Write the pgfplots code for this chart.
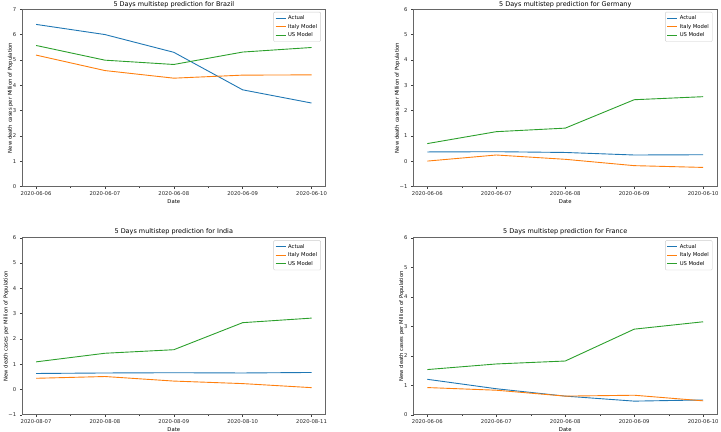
\documentclass[border=0pt]{standalone}
\usepackage{fontspec}
\setmainfont{DejaVu Sans}
\usepackage{pgfplots}
\pgfplotsset{compat=1.18}
\definecolor{tabblue}{HTML}{1F77B4}
\definecolor{taborange}{HTML}{FF7F0E}
\definecolor{tabgreen}{HTML}{2CA02C}
\pgfplotsset{
 covid/.style={
  scale only axis, width=303bp, height=177.5bp,
  xmin=-0.2, xmax=4.2, xtick={0,1,2,3,4}, minor xtick={0.5,1.5,2.5,3.5},
  tick align=outside, tick pos=left,
  major tick length=2.5bp, minor tick length=1.5bp,
  every tick/.style={black!75, line width=0.4pt},
  axis line style={black!60, line width=0.5pt},
  tick label style={font=\fontsize{5.3}{6}\selectfont, text=black!85},
  xticklabel style={yshift=1bp},
  label style={font=\fontsize{5.3}{6}\selectfont},
  xlabel style={yshift=3bp},
  ylabel style={yshift=-7bp},
  every axis title shift=0pt,
  title style={font=\fontsize{6.5}{7.5}\selectfont, anchor=base, yshift=2.2bp},
  xlabel={Date}, ylabel={New death cases per Million of Population},
  /pgf/number format/assume math mode=true,
  legend style={at={(0.985,0.985)}, anchor=north east, font=\fontsize{5.3}{6.3}\selectfont,
    draw=black!20, rounded corners=1pt, row sep=-1pt, inner sep=1.5pt},
  legend cell align=left,
  legend image code/.code={\draw[mark repeat=2,mark phase=2,##1] plot coordinates {(0bp,0bp) (5bp,0bp) (10bp,0bp)};},
  every axis plot/.append style={line width=0.9bp, no markers},
 },
 yfull/.style={ymin=-1, ymax=6, ytick={-1,0,1,2,3,4,5,6}, yticklabels={−1,0,1,2,3,4,5,6}},
}
\begin{document}
\begin{tikzpicture}
\useasboundingbox (0,0) rectangle (721bp,432bp);
% Brazil
\begin{axis}[covid, at={(22.3bp,245.3bp)}, anchor=south west,
  title={5 Days multistep prediction for Brazil},
  ymin=0, ymax=7, ytick={0,1,2,3,4,5,6,7},
  xticklabels={2020-06-06,2020-06-07,2020-06-08,2020-06-09,2020-06-10}]
\addplot[tabblue] coordinates {(0,6.40) (1,6.00) (2,5.30) (3,3.82) (4,3.30)};
\addplot[taborange] coordinates {(0,5.19) (1,4.58) (2,4.28) (3,4.40) (4,4.41)};
\addplot[tabgreen] coordinates {(0,5.57) (1,4.99) (2,4.82) (3,5.31) (4,5.49)};
\legend{Actual,Italy Model,US Model}
\end{axis}
% Germany
\begin{axis}[covid, yfull, at={(413.5bp,245.3bp)}, anchor=south west, width=303.5bp,
  title={5 Days multistep prediction for Germany},
  xticklabels={2020-06-06,2020-06-07,2020-06-08,2020-06-09,2020-06-10}]
\addplot[tabblue] coordinates {(0,0.37) (1,0.38) (2,0.35) (3,0.25) (4,0.26)};
\addplot[taborange] coordinates {(0,0.01) (1,0.25) (2,0.08) (3,-0.17) (4,-0.24)};
\addplot[tabgreen] coordinates {(0,0.70) (1,1.17) (2,1.31) (3,2.43) (4,2.55)};
\legend{Actual,Italy Model,US Model}
\end{axis}
% India
\begin{axis}[covid, yfull, at={(22.3bp,17.3bp)}, anchor=south west, height=177bp,
  title={5 Days multistep prediction for India}, title style={yshift=1.7bp},
  xticklabels={2020-08-07,2020-08-08,2020-08-09,2020-08-10,2020-08-11}]
\addplot[tabblue] coordinates {(0,0.63) (1,0.65) (2,0.66) (3,0.65) (4,0.67)};
\addplot[taborange] coordinates {(0,0.44) (1,0.51) (2,0.33) (3,0.23) (4,0.07)};
\addplot[tabgreen] coordinates {(0,1.09) (1,1.43) (2,1.57) (3,2.64) (4,2.82)};
\legend{Actual,Italy Model,US Model}
\end{axis}
% France
\begin{axis}[covid, at={(413.5bp,17.3bp)}, anchor=south west, width=303.5bp, height=177bp,
  title={5 Days multistep prediction for France}, title style={yshift=1.7bp},
  ymin=0, ymax=6, ytick={0,1,2,3,4,5,6},
  xticklabels={2020-06-06,2020-06-07,2020-06-08,2020-06-09,2020-06-10}]
\addplot[tabblue] coordinates {(0,1.20) (1,0.88) (2,0.63) (3,0.46) (4,0.50)};
\addplot[taborange] coordinates {(0,0.92) (1,0.83) (2,0.63) (3,0.66) (4,0.47)};
\addplot[tabgreen] coordinates {(0,1.53) (1,1.72) (2,1.82) (3,2.90) (4,3.15)};
\legend{Actual,Italy Model,US Model}
\end{axis}
\end{tikzpicture}
\end{document}
